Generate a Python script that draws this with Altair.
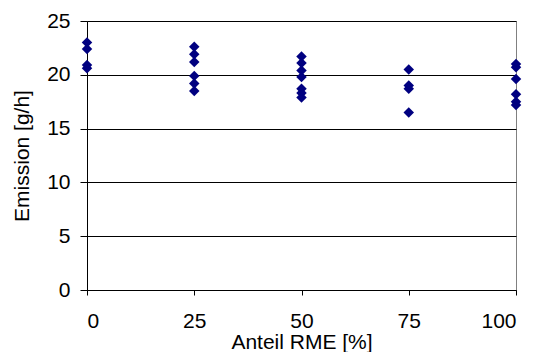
import altair as alt
import pandas as pd

share_0 = [23.0, 22.4, 20.9, 20.6]
share_25 = [22.6, 21.9, 21.2, 19.9, 19.2, 18.5]
share_50 = [21.7, 21.1, 20.4, 19.8, 18.7, 18.3, 17.9]
share_75 = [20.5, 19.0, 18.7, 16.5]
share_100 = [21.0, 20.7, 19.6, 18.2, 17.5, 17.2]

groups = {0: share_0, 25: share_25, 50: share_50, 75: share_75, 100: share_100}
rows = [{"rme": k, "em": v} for k, vals in groups.items() for v in vals]
df = pd.DataFrame(rows)

FONT = "Liberation Sans"
LBL = 21
TTL = 21
W, H = 429, 269

chart = alt.Chart(df).mark_point(
    shape="diamond", filled=True, color="#000080", size=110, opacity=1, clip=False
).encode(
    x=alt.X("rme:Q", scale=alt.Scale(domain=[0, 100], nice=False),
            axis=alt.Axis(values=[0, 25, 50, 75, 100], title="Anteil RME [%]",
                          grid=False, domainColor="black", tickColor="black",
                          tickSize=5, labelPadding=15, labelFontSize=LBL,
                          labelFont=FONT, labelColor="black", titleFont=FONT,
                          titleFontSize=TTL, titleFontWeight="normal",
                          titleColor="black", titleBaseline="alphabetic",
                          titleX=W / 2, titleY=58, titleAlign="center")),
    y=alt.Y("em:Q", scale=alt.Scale(domain=[0, 25], nice=False),
            axis=alt.Axis(values=[0, 5, 10, 15, 20, 25], title="Emission [g/h]",
                          grid=True, gridColor="black", gridOpacity=1, gridWidth=1,
                          domainColor="black", tickColor="black", tickSize=7,
                          labelPadding=10, labelFontSize=LBL, labelFont=FONT,
                          labelColor="black", titleFont=FONT, titleFontSize=TTL,
                          titleFontWeight="normal", titleColor="black",
                          titleBaseline="alphabetic", titleX=-59, titleY=H / 2,
                          titleAlign="center", titleAngle=270)),
).properties(
    width=W, height=H,
    autosize=alt.AutoSizeParams(type="none"),
    padding={"left": 79, "top": 13, "right": 14, "bottom": 62},
).configure_view(
    stroke="#808080", strokeWidth=1
)

chart.save("out.html", embed_options={"renderer": "svg", "actions": False})
